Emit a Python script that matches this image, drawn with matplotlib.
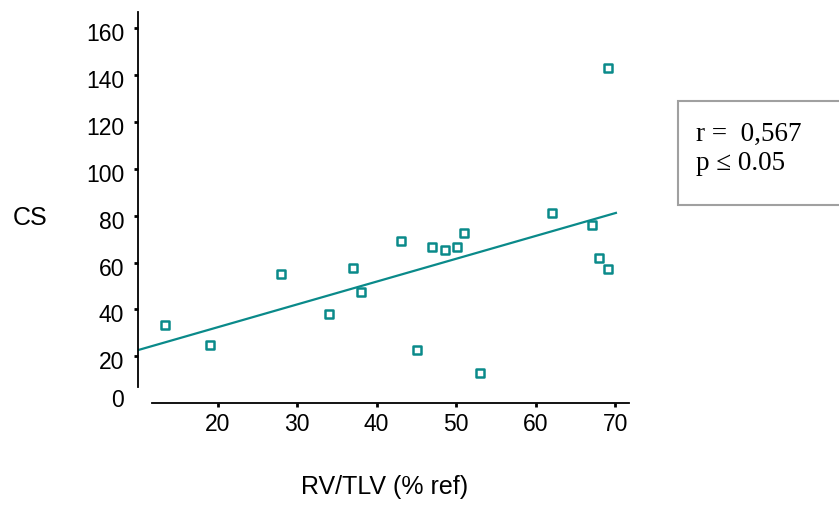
import matplotlib
matplotlib.use("Agg")
import matplotlib.pyplot as plt
from matplotlib.patches import Rectangle
from matplotlib.transforms import ScaledTranslation
import numpy as np

# data
rv_tlv = [13.4, 19.0, 28.0, 34.0, 37.0, 38.1, 43.1, 45.1, 47.0, 48.6,
          50.1, 51.0, 53.0, 62.1, 67.1, 68.0, 69.1, 69.1]
cs = [33.5, 24.7, 55.1, 37.9, 57.8, 47.3, 69.1, 22.5, 66.8, 65.4,
      66.8, 72.6, 12.9, 81.1, 75.9, 62.1, 57.3, 143.2]

# regression line as drawn
fit_slope = 0.975
fit_intercept = 12.85
fit_range = [10, 70.1]

x_ticks = [20, 30, 40, 50, 60, 70]
y_ticks = [0, 20, 40, 60, 80, 100, 120, 140, 160]

teal = "#0a8a8a"

plt.rcParams["font.family"] = ["Liberation Sans", "DejaVu Sans"]

fig = plt.figure(figsize=(8.39, 5.07), dpi=100)
ax = fig.add_axes([0.1645, 0.2051, 0.5876, 0.7712])

ax.scatter(rv_tlv, cs, marker="s", s=27, facecolors="white",
           edgecolors=teal, linewidths=1.8, zorder=3)

fx = np.array(fit_range)
ax.plot(fx, fit_intercept + fit_slope * fx, color=teal, lw=1.6, zorder=2)

ax.set_xlim(10, 72)
ax.set_ylim(0, 167)
ax.set_xticks(x_ticks)
ax.set_yticks(y_ticks)

for side in ["top", "right"]:
    ax.spines[side].set_visible(False)
ax.spines["left"].set_bounds(7, 167)
ax.spines["bottom"].set_bounds(11.8, 71.8)
for side in ["left", "bottom"]:
    ax.spines[side].set_linewidth(1.3)

ax.tick_params(axis="both", length=3, width=2, labelsize=16.5)
ax.tick_params(axis="y", pad=7)
ax.tick_params(axis="x", pad=4)
ax.yaxis.get_major_ticks()[0].tick1line.set_visible(False)

# y labels sit a little below their ticks in the original, the 0 a bit above
for i, lab in enumerate(ax.get_yticklabels()):
    dy = 5 if i == 0 else -4
    lab.set_transform(lab.get_transform() +
                      ScaledTranslation(0, dy / 100, fig.dpi_scale_trans))

fig.text(30.5 / 839, 1 - 218 / 507, "CS", fontsize=18, ha="center", va="center")
fig.text(385 / 839, 1 - 487 / 507, "RV/TLV (% ref)", fontsize=18,
         ha="center", va="center")

box = Rectangle((678 / 839, 1 - 205 / 507), 0.25, (205 - 100.7) / 507,
                transform=fig.transFigure, facecolor="white",
                edgecolor="#a0a0a0", lw=1.5)
fig.patches.append(box)
fig.text(696 / 839, 1 - 134 / 507, "r =  0,567", family="Liberation Serif",
         fontsize=19.5, va="center")
fig.text(696 / 839, 1 - 164 / 507, "p \u2264 0.05", family="Liberation Serif",
         fontsize=19.5, va="center")

fig.savefig("out.png", dpi=100)
